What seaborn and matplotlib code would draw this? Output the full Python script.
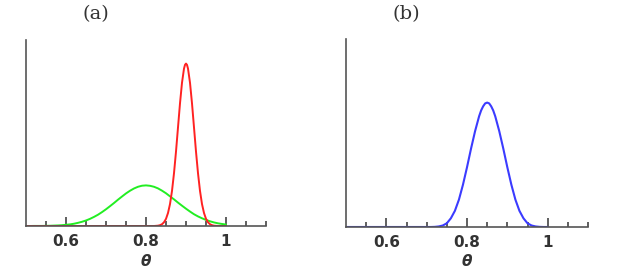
import numpy as np
import seaborn as sns
import matplotlib.pyplot as plt
from matplotlib.ticker import FixedLocator

# Curve samples (heights in arbitrary density-like units)
red_x = [0.50, 0.82, 0.825, 0.83, 0.835, 0.84, 0.845, 0.85, 0.855, 0.86, 0.865,
         0.87, 0.875, 0.88, 0.885, 0.89, 0.895, 0.8975, 0.90, 0.9025, 0.905,
         0.91, 0.915, 0.92, 0.925, 0.93, 0.935, 0.94, 0.945, 0.95, 0.955, 0.96,
         0.965, 0.97, 0.975, 0.98, 1.00]
red_y = [0, 0, 0.02, 0.04, 0.10, 0.22, 0.46, 0.88, 1.60, 2.70, 4.32,
         6.50, 9.16, 12.14, 15.10, 17.64, 19.38, 19.84, 20.0, 19.84, 19.38,
         17.64, 15.10, 12.14, 9.16, 6.50, 4.32, 2.70, 1.60, 0.88, 0.46, 0.22,
         0.10, 0.04, 0.02, 0, 0]

green_x = [round(0.50 + 0.01 * i, 2) for i in range(51)]
green_y = [0.00, 0.00, 0.01, 0.01, 0.01, 0.02, 0.03, 0.05, 0.07, 0.10,
           0.15, 0.20, 0.28, 0.39, 0.52, 0.68, 0.88, 1.12, 1.39, 1.71,
           2.06, 2.44, 2.83, 3.24, 3.63, 4.01, 4.34, 4.62, 4.83, 4.96,
           5.00,
           4.95, 4.83, 4.63, 4.35, 4.03, 3.65, 3.28, 2.88, 2.50, 2.13,
           1.78, 1.45, 1.18, 0.95, 0.75, 0.58, 0.44, 0.33, 0.25, 0.18]

blue_x = [0.50, 0.71, 0.72, 0.73, 0.74, 0.75, 0.76, 0.77, 0.78, 0.79,
          0.80, 0.81, 0.82, 0.83, 0.835, 0.84, 0.845, 0.85, 0.855, 0.86,
          0.865, 0.87, 0.88, 0.89, 0.90, 0.91, 0.92, 0.93, 0.94, 0.95,
          0.96, 0.97, 0.98, 0.99, 1.00]
blue_y = [0, 0, 0.01, 0.04, 0.11, 0.27, 0.63, 1.17, 1.98, 3.06,
          4.32, 5.67, 6.93, 8.01, 8.43, 8.73, 8.94, 9.00, 8.94, 8.73,
          8.43, 8.01, 6.93, 5.67, 4.32, 3.06, 1.98, 1.17, 0.63, 0.27,
          0.11, 0.04, 0.01, 0, 0]

major_ticks = [0.6, 0.8, 1.0]
major_labels = ['0.6', '0.8', '1']
minor_ticks = [0.55, 0.65, 0.70, 0.75, 0.85, 0.90, 0.95, 1.05, 1.10]

sns.set_style('ticks')
plt.rcParams['font.family'] = ['DejaVu Sans']

fig = plt.figure(figsize=(6.28, 2.75), dpi=100)
ax_a = fig.add_axes([26 / 628, 1 - 226 / 275, 240 / 628, 186 / 275])
ax_b = fig.add_axes([346 / 628, 1 - 227 / 275, 242 / 628, 188 / 275])


def style_axis(ax, ymax):
    ax.set_xlim(0.5, 1.1)
    ax.set_ylim(0, ymax)
    for side in ['top', 'right']:
        ax.spines[side].set_visible(False)
    for side in ['left', 'bottom']:
        ax.spines[side].set_color('#555555')
        ax.spines[side].set_linewidth(1.2)
    ax.set_yticks([])
    ax.set_xticks(major_ticks)
    ax.set_xticklabels(major_labels)
    ax.xaxis.set_minor_locator(FixedLocator(minor_ticks))
    ax.tick_params(axis='x', which='major', direction='in', length=6.5,
                   width=1.2, color='#444444', pad=6, labelsize=11,
                   labelcolor='#333333')
    ax.tick_params(axis='x', which='minor', direction='in', length=3.5,
                   width=1.2, color='#444444')
    for lab in ax.get_xticklabels():
        lab.set_fontweight('semibold')
    ax.set_xlabel('θ', fontsize=11, fontstyle='italic', fontweight='bold',
                  color='#333333', labelpad=3)
    ax.set_ylabel('')


sns.lineplot(x=green_x, y=green_y, ax=ax_a, color='#22ee22', linewidth=1.4,
             sort=False, estimator=None)
sns.lineplot(x=red_x, y=red_y, ax=ax_a, color='#ff2222', linewidth=1.4,
             sort=False, estimator=None)
style_axis(ax_a, 22.9)

sns.lineplot(x=blue_x, y=blue_y, ax=ax_b, color='#3b3bff', linewidth=1.5,
             sort=False, estimator=None)
style_axis(ax_b, 13.6)

fig.text(95.5 / 628, 1 - 14 / 275, '(a)', ha='center', va='center',
         fontsize=14, family='DejaVu Serif', color='#333333')
fig.text(406 / 628, 1 - 14 / 275, '(b)', ha='center', va='center',
         fontsize=14, family='DejaVu Serif', color='#333333')

fig.savefig('out.png', dpi=100)
